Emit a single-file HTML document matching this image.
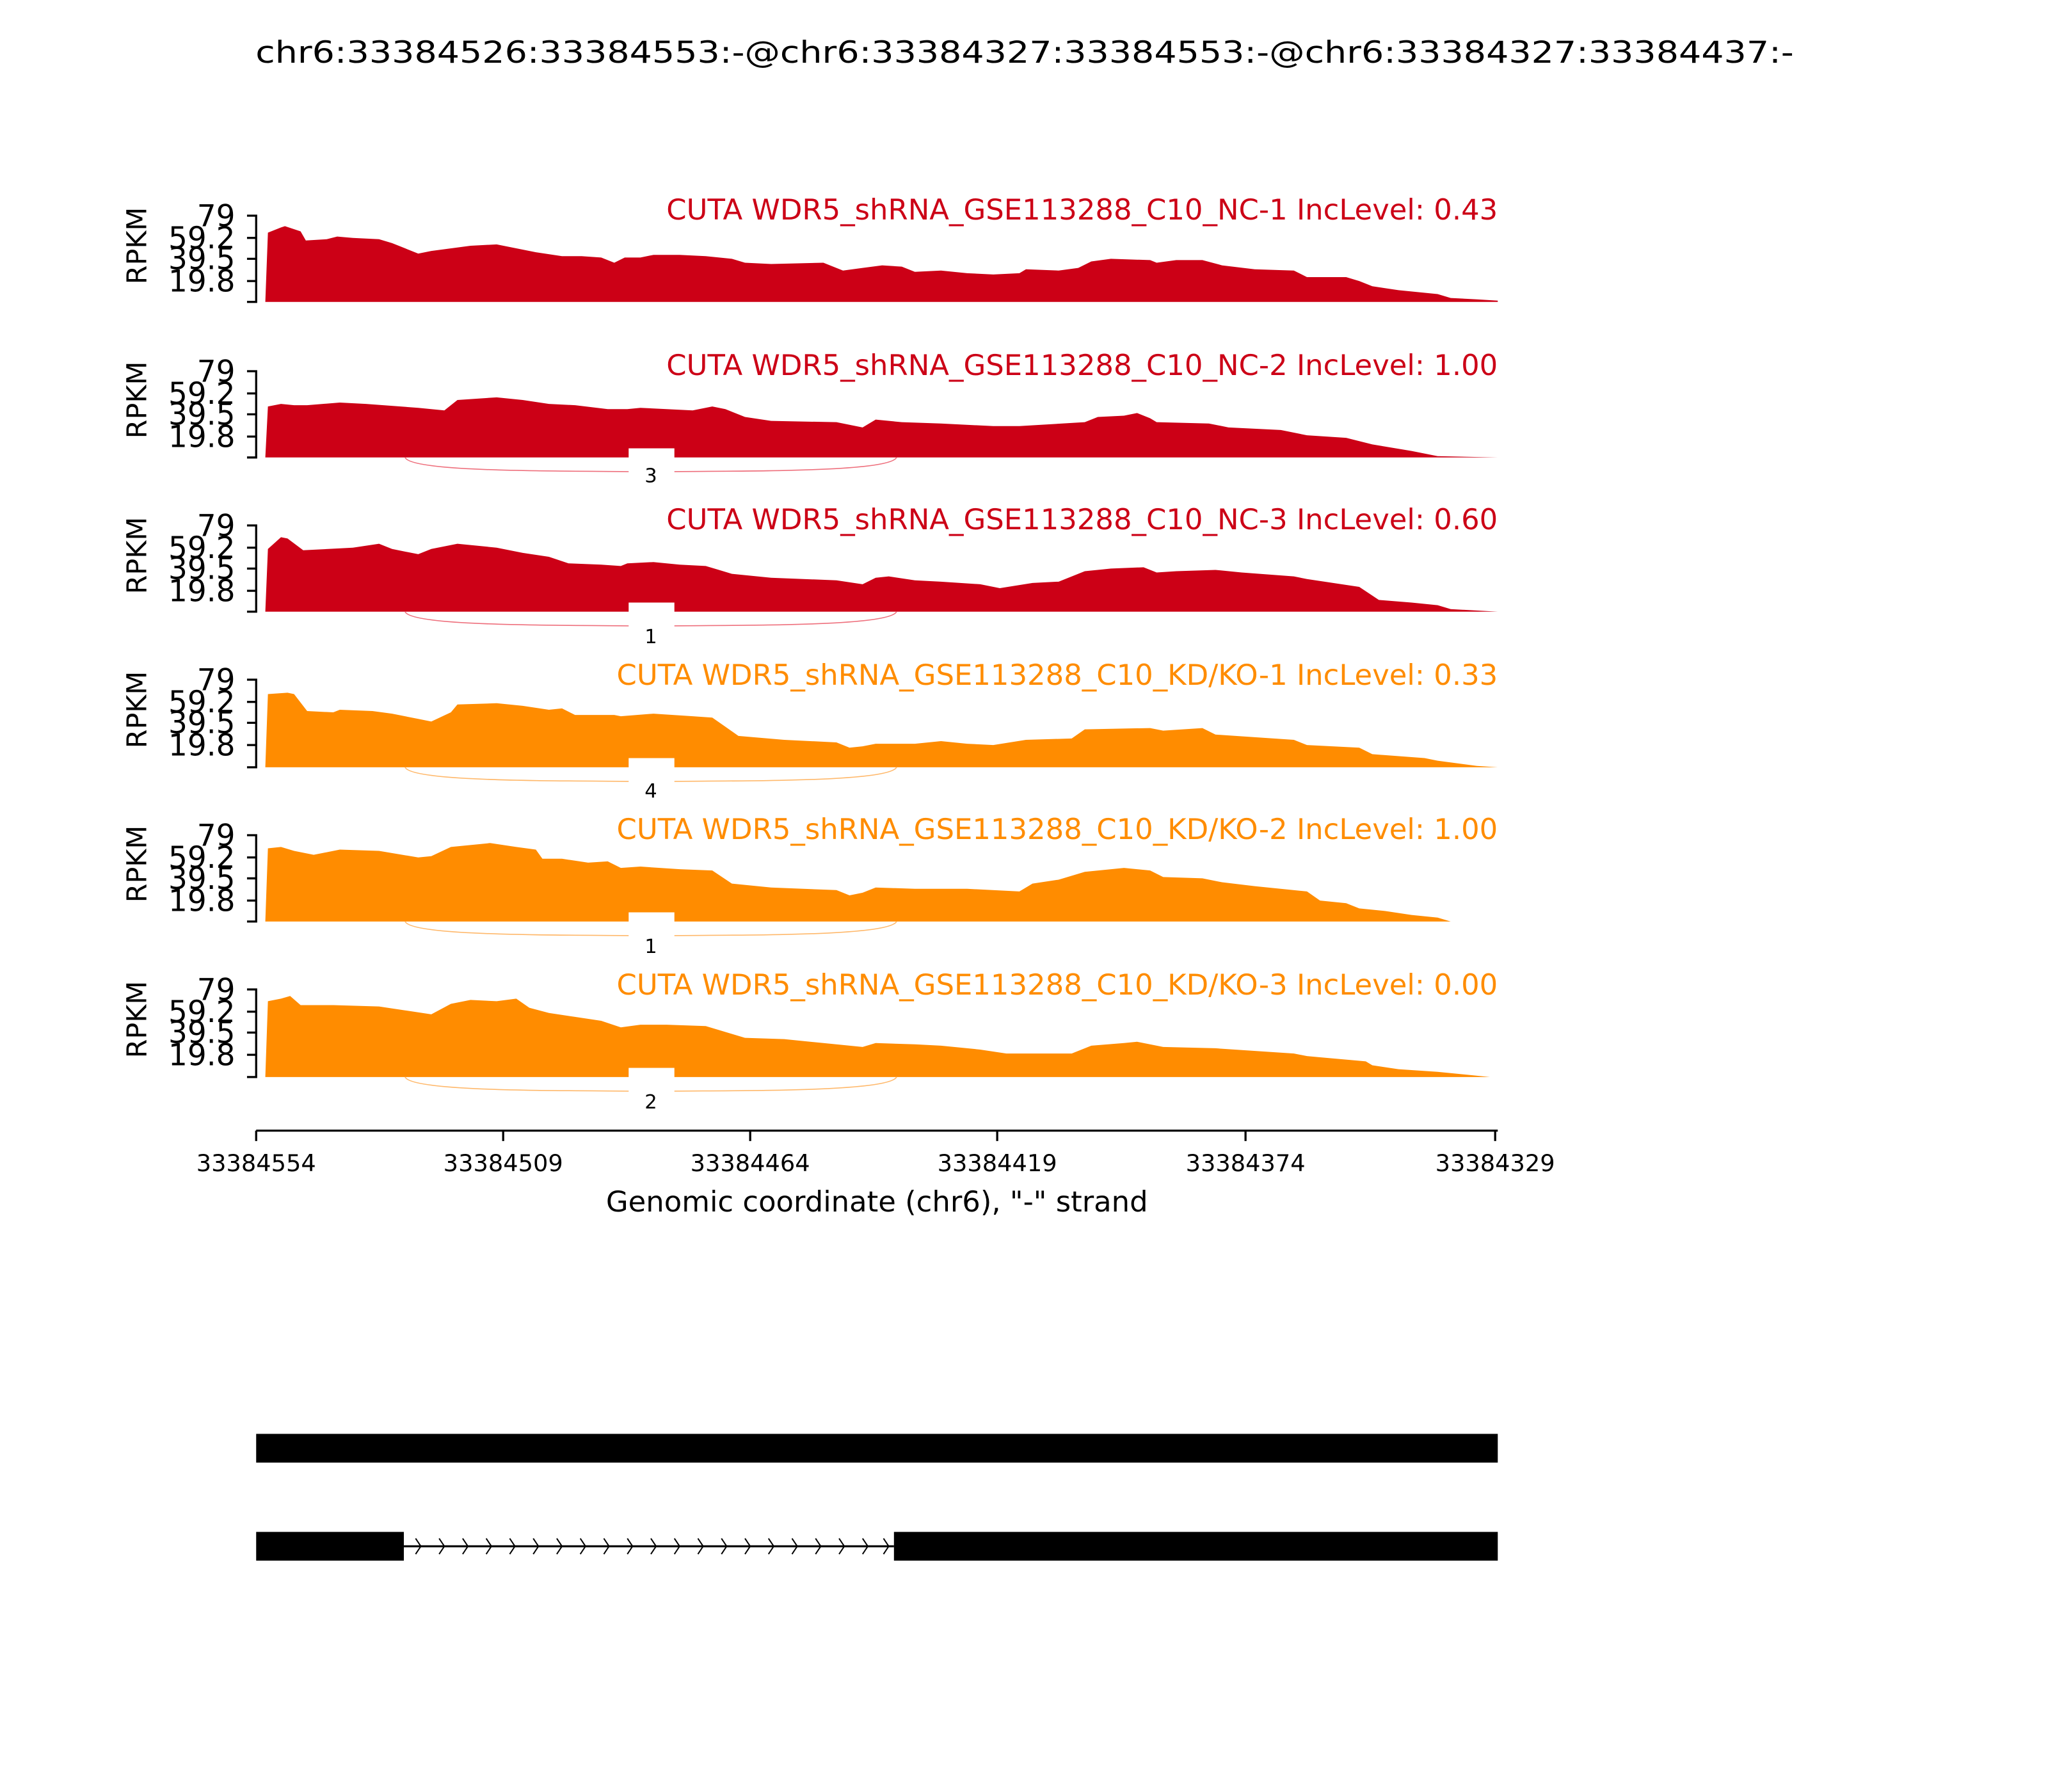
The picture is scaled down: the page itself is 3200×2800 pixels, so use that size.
<!DOCTYPE html>
<html><head><meta charset="utf-8"><style>html,body{margin:0;padding:0;background:#fff}svg{display:block}</style></head>
<body>
<svg xmlns="http://www.w3.org/2000/svg" width="3200" height="2800" viewBox="0 0 1567 1371" preserveAspectRatio="none" font-family="'DejaVu Sans','Liberation Sans',sans-serif">
<rect width="1567" height="1371" fill="#fff"/>
<text x="784" y="48" font-size="23" text-anchor="middle" textLength="1177" lengthAdjust="spacingAndGlyphs">chr6:33384526:33384553:-@chr6:33384327:33384553:-@chr6:33384327:33384437:-</text>

<polygon fill="#cc0016" points="203,231 205,178 215,174 218,173 230,177 234,184 250,183 258,181 270,182 290,183 300,186 310,190 320,194 330,192 360,188 380,187 395,190 410,193 430,196 445,196 460,197 470,201 478,197 490,197 500,195 520,195 540,196 560,198 570,201 590,202 630,201 645,207 660,205 675,203 690,204 700,208 720,207 740,209 760,210 780,209 785,206 810,207 825,205 835,200 850,198 880,199 885,201 900,199 920,199 935,203 960,206 990,207 1000,212 1030,212 1040,215 1050,219 1070,222 1100,225 1110,228 1130,229 1146,230 1146,231"/>
<polygon fill="#cc0016" points="203,350 205,311 215,309 225,310 235,310 260,308 280,309 320,312 340,314 345,310 350,306 380,304 400,306 420,309 440,310 465,313 480,313 490,312 510,313 530,314 545,311 555,313 570,319 590,322 640,323 660,327 670,321 690,323 720,324 760,326 780,326 830,323 840,319 860,318 870,316 880,320 885,323 925,324 940,327 980,329 1000,333 1030,335 1050,340 1080,345 1100,349 1146,350 1146,350"/>
<polygon fill="#cc0016" points="203,468 205,420 215,411 220,412 232,421 270,419 290,416 300,420 320,424 330,420 350,416 380,419 400,423 420,426 435,431 460,432 475,433 480,431 500,430 520,432 540,433 560,439 590,442 640,444 660,447 670,442 680,441 700,444 720,445 750,447 765,450 790,446 810,445 830,437 850,435 875,434 885,438 900,437 930,436 950,438 990,441 1000,443 1040,449 1055,459 1080,461 1100,463 1110,466 1146,468"/>
<polygon fill="#ff8c00" points="203,587 205,531 220,530 225,531 235,544 255,545 260,543 285,544 300,546 320,550 330,552 345,545 350,539 380,538 400,540 420,543 430,542 440,547 470,547 475,548 500,546 530,548 545,549 555,556 565,563 600,566 640,568 650,572 660,571 670,569 700,569 720,567 740,569 760,570 785,566 820,565 830,558 880,557 890,559 920,557 930,562 990,566 1000,570 1040,572 1050,577 1090,580 1100,582 1130,586 1146,587"/>
<polygon fill="#ff8c00" points="203,705 205,649 215,648 225,651 240,654 260,650 290,651 320,656 330,655 345,648 375,645 395,648 410,650 415,657 430,657 450,660 465,659 475,664 490,663 520,665 545,666 560,676 590,679 640,681 650,685 660,683 670,679 700,680 720,680 740,680 780,682 790,676 810,673 830,667 860,664 880,666 890,671 920,672 935,675 960,678 1000,682 1010,689 1030,691 1040,695 1060,697 1080,700 1100,702 1110,705 1146,705"/>
<polygon fill="#ff8c00" points="203,824 205,766 215,764 222,762 230,769 255,769 290,770 310,773 330,776 345,768 360,765 380,766 395,764 405,771 420,775 440,778 460,781 475,786 490,784 510,784 540,785 560,791 570,794 600,795 630,798 660,801 670,798 700,799 720,800 750,803 770,806 820,806 835,800 860,798 870,797 890,801 930,802 990,806 1000,808 1045,812 1050,815 1070,818 1100,820 1140,824"/>

<g fill="none" stroke-width="0.8">
<path d="M310,350 C315,362 440,360 498,361 C560,360 680,362 686,350" stroke="#ee6f7c"/>
<path d="M310,468 C315,480 440,478 498,479 C560,478 680,480 686,468" stroke="#ee6f7c"/>
<path d="M310,587 C315,599 440,597 498,598 C560,597 680,599 686,587" stroke="#ffb86a"/>
<path d="M310,705 C315,717 440,715 498,716 C560,715 680,717 686,705" stroke="#ffb86a"/>
<path d="M310,824 C315,836 440,834 498,835 C560,834 680,836 686,824" stroke="#ffb86a"/>
</g>
<g fill="#fff">
<rect x="481" y="343" width="35" height="27"/>
<rect x="481" y="461" width="35" height="27"/>
<rect x="481" y="580" width="35" height="27"/>
<rect x="481" y="698" width="35" height="27"/>
<rect x="481" y="817" width="35" height="47"/>
</g>
<g font-size="15" text-anchor="middle">
<text x="498" y="369">3</text>
<text x="498" y="492">1</text>
<text x="498" y="610">4</text>
<text x="498" y="729">1</text>
<text x="498" y="848">2</text>
</g>

<g stroke="#000" stroke-width="1.6" fill="none">
<path d="M189,165 H196 V231 H189 M189,182 H196 M189,198 H196 M189,215 H196"/>
<path d="M189,284 H196 V350 H189 M189,301 H196 M189,317 H196 M189,334 H196"/>
<path d="M189,402 H196 V468 H189 M189,419 H196 M189,435 H196 M189,452 H196"/>
<path d="M189,520 H196 V587 H189 M189,537 H196 M189,553 H196 M189,570 H196"/>
<path d="M189,639 H196 V705 H189 M189,656 H196 M189,672 H196 M189,689 H196"/>
<path d="M189,757 H196 V824 H189 M189,774 H196 M189,790 H196 M189,807 H196"/>
</g>
<g font-size="23" text-anchor="end">
<text x="180" y="173">79</text><text x="180" y="190">59.2</text><text x="180" y="206">39.5</text><text x="180" y="223">19.8</text>
<text x="180" y="292">79</text><text x="180" y="309">59.2</text><text x="180" y="325">39.5</text><text x="180" y="342">19.8</text>
<text x="180" y="410">79</text><text x="180" y="427">59.2</text><text x="180" y="443">39.5</text><text x="180" y="460">19.8</text>
<text x="180" y="528">79</text><text x="180" y="545">59.2</text><text x="180" y="561">39.5</text><text x="180" y="578">19.8</text>
<text x="180" y="647">79</text><text x="180" y="664">59.2</text><text x="180" y="680">39.5</text><text x="180" y="697">19.8</text>
<text x="180" y="765">79</text><text x="180" y="782">59.2</text><text x="180" y="798">39.5</text><text x="180" y="815">19.8</text>
</g>
<g font-size="21" text-anchor="middle">
<text transform="translate(112,188) rotate(-90)">RPKM</text>
<text transform="translate(112,306) rotate(-90)">RPKM</text>
<text transform="translate(112,425) rotate(-90)">RPKM</text>
<text transform="translate(112,543) rotate(-90)">RPKM</text>
<text transform="translate(112,661) rotate(-90)">RPKM</text>
<text transform="translate(112,780) rotate(-90)">RPKM</text>
</g>
<g font-size="22" text-anchor="end">
<text x="1146" y="168" fill="#cc0016">CUTA WDR5_shRNA_GSE113288_C10_NC-1 IncLevel: 0.43</text>
<text x="1146" y="287" fill="#cc0016">CUTA WDR5_shRNA_GSE113288_C10_NC-2 IncLevel: 1.00</text>
<text x="1146" y="405" fill="#cc0016">CUTA WDR5_shRNA_GSE113288_C10_NC-3 IncLevel: 0.60</text>
<text x="1146" y="524" fill="#ff8c00">CUTA WDR5_shRNA_GSE113288_C10_KD/KO-1 IncLevel: 0.33</text>
<text x="1146" y="642" fill="#ff8c00">CUTA WDR5_shRNA_GSE113288_C10_KD/KO-2 IncLevel: 1.00</text>
<text x="1146" y="761" fill="#ff8c00">CUTA WDR5_shRNA_GSE113288_C10_KD/KO-3 IncLevel: 0.00</text>
</g>

<g stroke="#000" stroke-width="1.6" fill="none">
<path d="M196,865 H1146 M196,865 V873 M385,865 V873 M574,865 V873 M763,865 V873 M953,865 V873 M1144,865 V873"/>
</g>
<g font-size="18" text-anchor="middle">
<text x="196" y="896">33384554</text><text x="385" y="896">33384509</text><text x="574" y="896">33384464</text>
<text x="763" y="896">33384419</text><text x="953" y="896">33384374</text><text x="1144" y="896">33384329</text>
</g>
<text x="671" y="927" font-size="22" text-anchor="middle">Genomic coordinate (chr6), "-" strand</text>

<rect x="196" y="1097" width="950" height="22" fill="#000"/>
<rect x="196" y="1172" width="113" height="22" fill="#000"/>
<rect x="684" y="1172" width="462" height="22" fill="#000"/>
<path d="M309,1183 H684" stroke="#000" stroke-width="1.5"/>
<g stroke="#000" stroke-width="1" fill="none">
<path d="M318,1177 l4,6 l-4,6 M336,1177 l4,6 l-4,6 M354,1177 l4,6 l-4,6 M372,1177 l4,6 l-4,6 M390,1177 l4,6 l-4,6 M408,1177 l4,6 l-4,6 M426,1177 l4,6 l-4,6 M444,1177 l4,6 l-4,6 M462,1177 l4,6 l-4,6 M480,1177 l4,6 l-4,6 M498,1177 l4,6 l-4,6 M516,1177 l4,6 l-4,6 M534,1177 l4,6 l-4,6 M552,1177 l4,6 l-4,6 M570,1177 l4,6 l-4,6 M588,1177 l4,6 l-4,6 M606,1177 l4,6 l-4,6 M624,1177 l4,6 l-4,6 M642,1177 l4,6 l-4,6 M660,1177 l4,6 l-4,6 M676,1177 l4,6 l-4,6"/>
</g>
</svg>
</body></html>
